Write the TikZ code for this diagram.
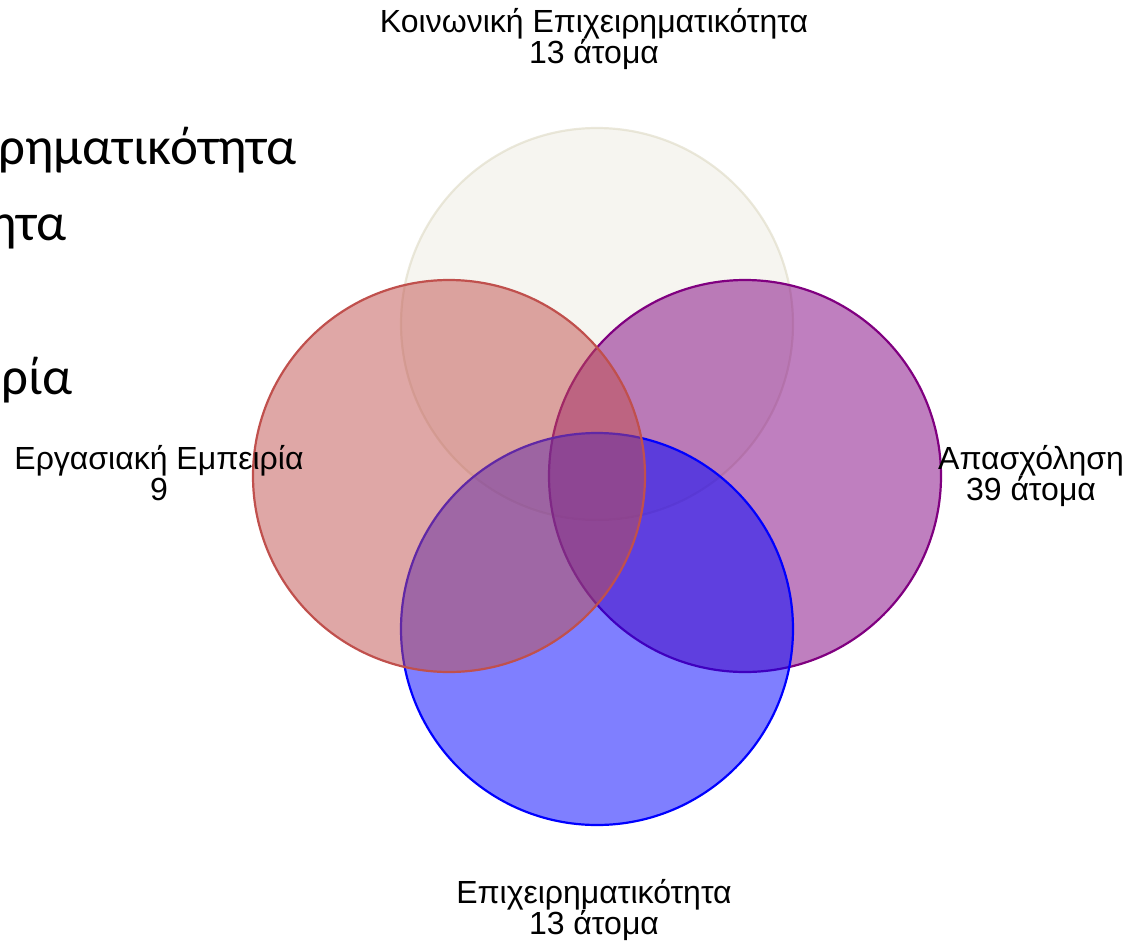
\documentclass[tikz,border=0pt]{standalone}
\usepackage{fontspec}
\setmainfont{Liberation Sans}
\newfontfamily\bigfont{Carlito}
\begin{document}
\begin{tikzpicture}[x=1pt,y=-1pt,
  venn/.style={line width=2.2pt, fill opacity=0.5},
  lbl/.style={font=\fontsize{32}{31}\selectfont, align=center, inner sep=0pt, anchor=base},
  bigtxt/.style={font=\bigfont\fontsize{53}{60}\selectfont, inner sep=0pt, anchor=base east}]
\useasboundingbox (0,0) rectangle (1133,951);
\definecolor{beigeF}{HTML}{EEECE1}
\definecolor{beigeD}{HTML}{DDD9C3}
\definecolor{redC}{HTML}{C0504D}
\definecolor{purpC}{HTML}{800080}
\definecolor{blueC}{HTML}{0000FF}
% circles
\coordinate (ct) at (597,324);
\coordinate (cl) at (449,476);
\coordinate (cr) at (745,476);
\coordinate (cb) at (597,629);
\draw[venn, fill=beigeF, draw=beigeD, draw opacity=0.6] (ct) circle[radius=196pt];
\draw[venn, fill=purpC, draw=purpC] (cr) circle[radius=196pt];
\draw[venn, fill=blueC, draw=blueC] (cb) circle[radius=196pt];
\draw[venn, fill=redC, draw=redC] (cl) circle[radius=196pt];
% labels (base = last line)
\node[lbl] (lt) at (594,63) {Κοινωνική Επιχειρηματικότητα\\13 άτομα};
\node[lbl] (ll) at (159,500) {Εργασιακή Εμπειρία\\9};
\node[lbl] (lr) at (1031,500) {Απασχόληση\\39 άτομα};
\node[lbl] (lb) at (594,934) {Επιχειρηματικότητα\\13 άτομα};
% clipped large text at left edge
\node[bigtxt] (b1) at (297,164) {ρηματικότητα};
\node[bigtxt] (b2) at (67,240) {ητα};
\node[bigtxt] (b3) at (73,394) {ρία};
\end{tikzpicture}
\end{document}
